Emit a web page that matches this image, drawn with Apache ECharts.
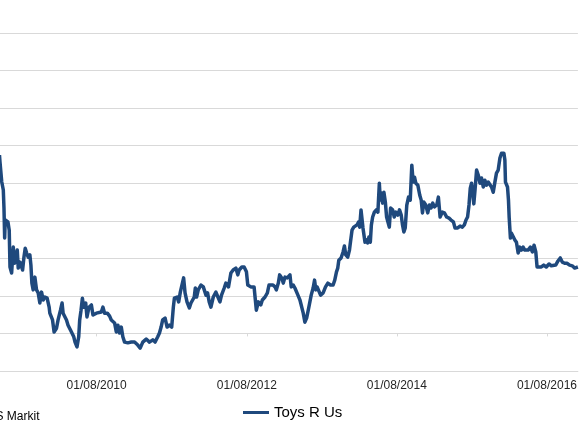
<!DOCTYPE html>
<html>
<head>
<meta charset="utf-8">
<script src="https://cdn.jsdelivr.net/npm/echarts@6/dist/echarts.min.js"></script>
<style>html,body{margin:0;padding:0;background:#fff;}#c{width:580px;height:435px;}</style>
</head>
<body>
<div id="c"></div>
<script>
// x: decimal year, y: spread (relative units; axis labels not visible in the cropped view)
const seriesName = 'Toys R Us';
const tickYears = [2010.581, 2012.582, 2014.581, 2016.582];
const tickLabels = ['01/08/2010', '01/08/2012', '01/08/2014', '01/08/2016'];
const xRange = [2009.293, 2016.994];
const yRange = [0, 900];
const yStep = 100;
const sourceText = 'Source: IHS Markit';
const toysRUs = [
[2009.286,575],[2009.293,556],[2009.316,504],[2009.337,482],[2009.346,434],[2009.355,354],[2009.363,402],[2009.373,407],[2009.399,397],[2009.416,375],[2009.426,277],[2009.448,261],[2009.470,330],[2009.488,287],[2009.505,303],[2009.523,322],[2009.536,274],[2009.559,290],[2009.581,287],[2009.594,269],[2009.612,303],[2009.629,327],[2009.648,314],[2009.669,303],[2009.691,309],[2009.705,282],[2009.718,234],[2009.735,216],[2009.758,250],[2009.780,216],[2009.802,208],[2009.824,181],[2009.847,210],[2009.868,189],[2009.891,197],[2009.921,194],[2009.948,170],[2009.957,154],[2009.993,136],[2010.014,104],[2010.046,114],[2010.067,136],[2010.099,162],[2010.120,181],[2010.134,154],[2010.156,154],[2010.179,136],[2010.200,122],[2010.232,109],[2010.258,104],[2010.276,91],[2010.293,77],[2010.319,64],[2010.342,91],[2010.355,136],[2010.373,162],[2010.391,194],[2010.408,170],[2010.435,181],[2010.452,144],[2010.479,170],[2010.511,176],[2010.532,149],[2010.554,154],[2010.577,154],[2010.598,149],[2010.643,157],[2010.665,170],[2010.687,154],[2010.723,154],[2010.754,146],[2010.776,136],[2010.820,128],[2010.843,104],[2010.864,122],[2010.886,101],[2010.909,117],[2010.930,91],[2010.953,77],[2010.997,75],[2011.042,77],[2011.086,77],[2011.129,69],[2011.161,61],[2011.196,77],[2011.241,85],[2011.285,77],[2011.329,83],[2011.360,77],[2011.395,91],[2011.418,101],[2011.440,117],[2011.461,136],[2011.493,141],[2011.520,117],[2011.550,122],[2011.581,117],[2011.603,170],[2011.617,194],[2011.653,197],[2011.674,184],[2011.696,210],[2011.714,208],[2011.740,248],[2011.759,208],[2011.785,184],[2011.816,168],[2011.838,181],[2011.852,184],[2011.882,197],[2011.896,221],[2011.913,197],[2011.935,216],[2011.971,229],[2012.002,224],[2012.038,202],[2012.059,208],[2012.081,184],[2012.104,170],[2012.135,197],[2012.170,210],[2012.197,197],[2012.224,184],[2012.245,202],[2012.281,221],[2012.303,234],[2012.338,224],[2012.370,261],[2012.400,269],[2012.436,274],[2012.462,256],[2012.480,269],[2012.516,277],[2012.546,277],[2012.577,264],[2012.595,229],[2012.635,224],[2012.679,224],[2012.692,197],[2012.709,162],[2012.736,184],[2012.768,176],[2012.789,189],[2012.825,197],[2012.856,208],[2012.878,229],[2012.901,234],[2012.931,229],[2012.958,224],[2012.975,216],[2013.002,234],[2013.020,256],[2013.047,248],[2013.068,234],[2013.091,250],[2013.121,248],[2013.144,253],[2013.157,256],[2013.174,224],[2013.201,229],[2013.223,221],[2013.246,224],[2013.263,202],[2013.290,189],[2013.307,184],[2013.334,154],[2013.356,130],[2013.379,141],[2013.409,170],[2013.440,202],[2013.466,221],[2013.485,242],[2013.502,216],[2013.519,224],[2013.542,221],[2013.565,202],[2013.599,208],[2013.631,224],[2013.662,234],[2013.697,229],[2013.732,229],[2013.754,242],[2013.777,264],[2013.794,274],[2013.808,295],[2013.838,301],[2013.865,317],[2013.883,333],[2013.901,309],[2013.927,303],[2013.950,322],[2013.963,343],[2013.984,375],[2014.007,383],[2014.051,389],[2014.073,397],[2014.086,383],[2014.104,429],[2014.130,381],[2014.157,343],[2014.175,349],[2014.193,341],[2014.210,357],[2014.228,343],[2014.242,389],[2014.259,410],[2014.282,423],[2014.308,429],[2014.329,423],[2014.348,500],[2014.361,455],[2014.375,474],[2014.392,447],[2014.409,476],[2014.428,450],[2014.445,410],[2014.462,397],[2014.481,383],[2014.498,434],[2014.525,429],[2014.547,410],[2014.568,423],[2014.595,415],[2014.617,429],[2014.640,415],[2014.657,389],[2014.675,370],[2014.693,381],[2014.714,442],[2014.737,463],[2014.760,455],[2014.773,514],[2014.781,548],[2014.799,503],[2014.817,516],[2014.834,500],[2014.861,495],[2014.887,468],[2014.906,455],[2014.923,421],[2014.940,450],[2014.967,442],[2014.993,421],[2015.016,442],[2015.038,434],[2015.060,447],[2015.082,437],[2015.113,442],[2015.135,463],[2015.158,410],[2015.188,423],[2015.215,421],[2015.246,410],[2015.277,407],[2015.304,402],[2015.335,397],[2015.357,381],[2015.392,381],[2015.424,386],[2015.454,383],[2015.481,389],[2015.503,402],[2015.524,410],[2015.543,442],[2015.560,487],[2015.577,500],[2015.596,468],[2015.607,445],[2015.623,482],[2015.644,535],[2015.666,522],[2015.689,500],[2015.710,514],[2015.733,490],[2015.755,508],[2015.777,495],[2015.799,503],[2015.822,500],[2015.843,490],[2015.866,476],[2015.888,503],[2015.909,527],[2015.932,535],[2015.955,567],[2015.976,580],[2016.008,580],[2016.021,562],[2016.029,503],[2016.056,490],[2016.069,455],[2016.078,410],[2016.095,354],[2016.109,367],[2016.131,362],[2016.154,349],[2016.175,343],[2016.198,314],[2016.220,330],[2016.241,322],[2016.264,330],[2016.287,322],[2016.308,327],[2016.330,322],[2016.361,330],[2016.387,317],[2016.410,335],[2016.433,317],[2016.450,277],[2016.476,280],[2016.507,277],[2016.539,282],[2016.573,277],[2016.609,285],[2016.640,280],[2016.662,277],[2016.698,282],[2016.729,293],[2016.759,301],[2016.786,290],[2016.818,287],[2016.848,287],[2016.884,282],[2016.919,280],[2016.950,274],[2016.972,277],[2016.994,277]
];

const FONT = 'Liberation Sans, Arial, sans-serif';
const chart = echarts.init(document.getElementById('c'), null, {renderer: 'canvas'});
function fmt(v) {
  for (let i = 0; i < tickYears.length; i++) {
    if (Math.abs(tickYears[i] - v) < 0.01) return tickLabels[i];
  }
  return '';
}
chart.setOption({
  animation: false,
  backgroundColor: '#ffffff',
  grid: {left: 0, right: 0, top: 33, bottom: 64, containLabel: false},
  xAxis: [{
    type: 'value', min: xRange[0], max: xRange[1],
    axisLine: {show: true, onZero: false, lineStyle: {color: '#d9d9d9', width: 1}},
    axisTick: {show: false},
    splitLine: {show: false},
    axisLabel: {show: true, customValues: tickYears, formatter: fmt, color: '#262626',
      fontFamily: FONT, fontSize: 12, margin: 9, hideOverlap: false}
  }, {
    type: 'value', min: xRange[0], max: xRange[1], position: 'bottom', offset: -37.6,
    axisLine: {show: false, onZero: false},
    axisTick: {show: true, customValues: tickYears, length: 3, lineStyle: {color: '#d9d9d9'}},
    splitLine: {show: false},
    axisLabel: {show: false}
  }],
  yAxis: {
    type: 'value', min: yRange[0], max: yRange[1], interval: yStep,
    axisLine: {show: false}, axisTick: {show: false}, axisLabel: {show: false},
    splitLine: {show: true, lineStyle: {color: '#d9d9d9', width: 1}}
  },
  legend: {
    show: true, data: [seriesName], left: 238, top: 400,
    icon: 'rect', itemWidth: 26, itemHeight: 3, itemGap: 10,
    textStyle: {fontFamily: FONT, fontSize: 15, color: '#000'}
  },
  graphic: [{
    type: 'text', x: 39.5, y: 417,
    style: {text: sourceText, fill: '#000', font: '12px ' + FONT, align: 'right', verticalAlign: 'middle'}
  }],
  series: [{
    name: seriesName, type: 'line', xAxisIndex: 0, data: toysRUs,
    showSymbol: false, symbol: 'none', clip: true,
    lineStyle: {color: '#1F497D', width: 3.5, join: 'round'},
    itemStyle: {color: '#1F497D'}
  }]
});
</script>
</body>
</html>
